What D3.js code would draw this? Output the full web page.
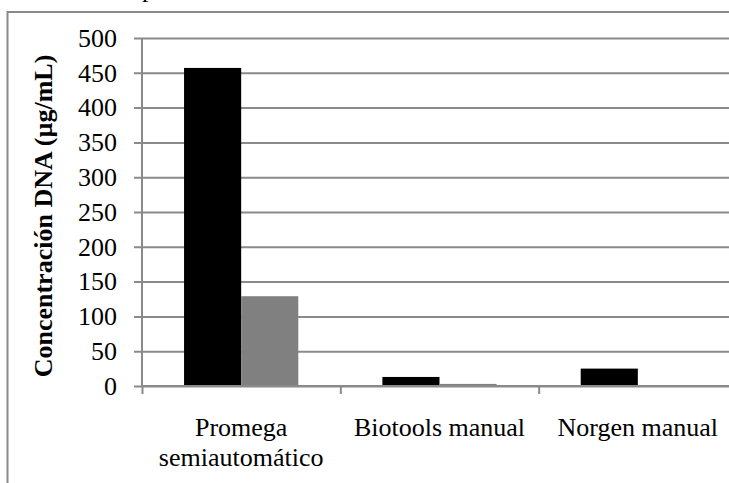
<!DOCTYPE html>
<html>
<head>
<meta charset="utf-8">
<script src="https://cdn.jsdelivr.net/npm/d3@7"></script>
<style>
  body { margin: 0; background: #fff; }
  svg text { font-family: "Liberation Serif", "Times New Roman", serif; }
</style>
</head>
<body>
<div id="chart"></div>
<script>
// chart values
var categories = ["Promega|semiautomático", "Biotools manual", "Norgen manual"];
var seriesNames = ["Serie 1", "Serie 2"];
var serie1 = [457, 13, 25];
var serie2 = [129, 3, 0];
var yTicks = [0, 50, 100, 150, 200, 250, 300, 350, 400, 450, 500];

var svgWidth = 729, svgHeight = 483;
// plot area runs past the right edge, like in the cropped original
var margin = { top: 38, left: 142 };
var width = 595;
var height = 348;

var svg = d3.select("#chart").append("svg")
    .attr("width", svgWidth).attr("height", svgHeight);

// frame of the chart (only top + left are visible)
svg.append("rect")
    .attr("x", 7.5).attr("y", 12)
    .attr("width", 800).attr("height", 600)
    .attr("fill", "none").attr("stroke", "#8a8a8a").attr("stroke-width", 2);

// bit of text above the frame, cut by the top edge
svg.append("text")
    .attr("x", 142).attr("y", -3)
    .attr("font-size", 26).attr("fill", "#000")
    .text("p");

var g = svg.append("g").attr("transform", `translate(${margin.left}, ${margin.top})`);

var yScale = d3.scaleLinear().domain([0, 500]).range([height, 0]);

var x0 = d3.scaleBand().domain(categories).range([0, width])
    .paddingInner(0.424).paddingOuter(0.212);
var x1 = d3.scaleBand().domain(seriesNames).range([0, x0.bandwidth()]);

// y axis + gridlines
var yAxis = d3.axisLeft(yScale).tickValues(yTicks).tickSize(8).tickPadding(17);
var yG = g.append("g").call(yAxis);
yG.selectAll(".tick line").attr("x1", -8).attr("x2", width);
yG.selectAll("line, path").attr("stroke", "#8a8a8a").attr("stroke-width", 2);
yG.select(".domain").attr("d", `M0,0V${height}`);
yG.selectAll("text").attr("font-size", 26).attr("fill", "#000")
    .attr("font-family", "Liberation Serif, serif");

// bars
var rows = categories.map(function(c, i) { return { cat: c, vals: [serie1[i], serie2[i]] }; });
var colors = ["#000000", "#808080"];
var grp = g.selectAll(".grp").data(rows).enter().append("g")
    .attr("transform", d => `translate(${x0(d.cat)},0)`);
grp.selectAll("rect")
    .data(d => d.vals.map((v, j) => ({ s: seriesNames[j], v: v, j: j })))
    .enter().append("rect")
    .attr("x", d => x1(d.s))
    .attr("width", x1.bandwidth())
    .attr("y", d => yScale(d.v))
    .attr("height", d => height - yScale(d.v))
    .attr("fill", d => colors[d.j]);

// x axis: ticks at the category boundaries
var bound = d3.scaleLinear().domain([0, categories.length]).range([0, width]);
var xG = g.append("g").attr("transform", `translate(0, ${height})`)
    .call(d3.axisBottom(bound).tickValues([0, 1, 2, 3]).tickSize(8).tickFormat(""));
xG.selectAll("line, path").attr("stroke", "#8a8a8a").attr("stroke-width", 2);
xG.select(".domain").attr("d", `M0,0H${width}`);

// category labels
var lab = g.append("g").selectAll("text").data(categories).enter().append("text")
    .attr("x", d => x0(d) + x0.bandwidth() / 2)
    .attr("y", height + 50)
    .attr("text-anchor", "middle")
    .attr("font-size", 26).attr("fill", "#000");
lab.selectAll("tspan").data(d => d.split("|")).enter().append("tspan")
    .attr("x", function() { return d3.select(this.parentNode).attr("x"); })
    .attr("dy", (d, i) => i ? 30 : 0)
    .text(d => d);

// y axis title
svg.append("text")
    .attr("transform", "translate(52, 216) rotate(-90)")
    .attr("text-anchor", "middle")
    .attr("font-size", 26).attr("font-weight", "bold").attr("fill", "#000")
    .text("Concentración DNA (µg/mL)");
</script>
</body>
</html>
